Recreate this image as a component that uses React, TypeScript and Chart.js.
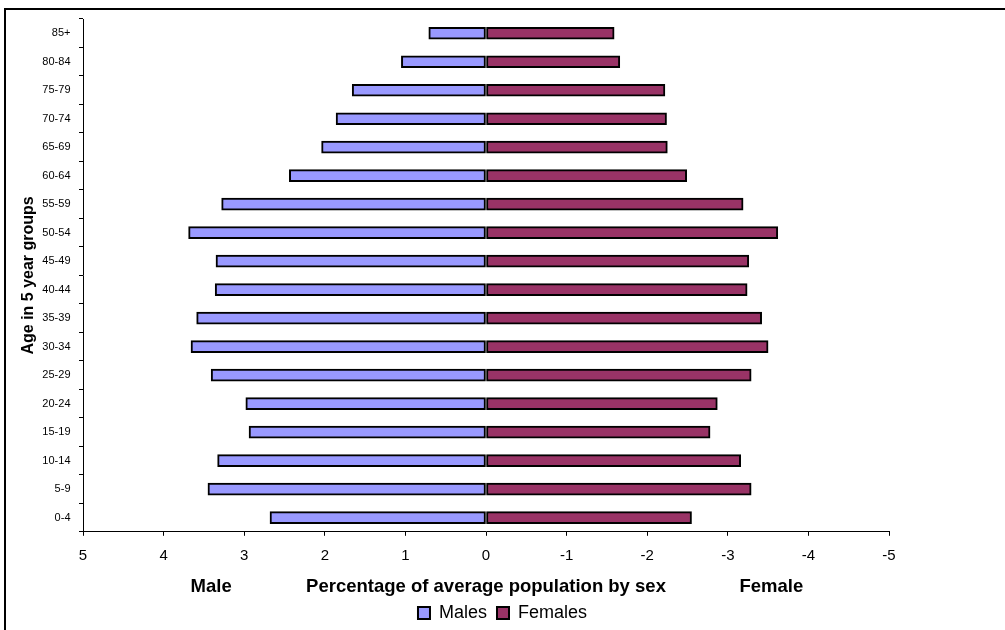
import React, { useEffect, useRef } from "react";
import { Chart, registerables } from "chart.js";

Chart.register(...registerables);

// ---- Data ----
const ageGroups = [
  "0-4", "5-9", "10-14", "15-19", "20-24", "25-29", "30-34", "35-39", "40-44",
  "45-49", "50-54", "55-59", "60-64", "65-69", "70-74", "75-79", "80-84", "85+",
];
const malesPct = [
  2.68, 3.45, 3.33, 2.94, 2.98, 3.41, 3.66, 3.59, 3.36,
  3.35, 3.69, 3.28, 2.44, 2.04, 1.86, 1.66, 1.05, 0.71,
];
// females plotted on the negative side of the axis
const femalesPct = [
  -2.55, -3.29, -3.16, -2.78, -2.87, -3.29, -3.5, -3.42, -3.24,
  -3.26, -3.62, -3.19, -2.49, -2.25, -2.24, -2.22, -1.66, -1.59,
];
const xMin = -5;
const xMax = 5;
const xStep = 1;
const seriesNames = ["Males", "Females"];
const yAxisTitle = "Age in 5 year groups";
const xAxisTitle = "Percentage of average population by sex";
const maleLabel = "Male";
const femaleLabel = "Female";

// ---- Styles ----
const FONT = "'Liberation Sans', Arial, Helvetica, sans-serif";
const TITLE_SIZE = 18.5;
const TITLE_PAD_BOTTOM = -4;

const sideLabels = {
  id: "sideLabels",
  afterDraw(chart: any) {
    const sx = chart.scales.x;
    const ctx = chart.ctx;
    const lh = TITLE_SIZE * 1.2;
    const y = sx.bottom - (lh / 2 + TITLE_PAD_BOTTOM);
    ctx.save();
    ctx.font = `bold ${TITLE_SIZE}px ${FONT}`;
    ctx.fillStyle = "#000";
    ctx.textAlign = "center";
    ctx.textBaseline = "middle";
    ctx.fillText(maleLabel, sx.getPixelForValue(3.41), y);
    ctx.fillText(femaleLabel, sx.getPixelForValue(-3.54), y);
    ctx.restore();
  },
};

export default function App() {
  const ref = useRef<HTMLCanvasElement | null>(null);

  useEffect(() => {
    if (!ref.current) return;
    const chart = new Chart(ref.current, {
      type: "bar",
      data: {
        labels: ageGroups,
        datasets: [
          {
            label: seriesNames[0],
            data: malesPct,
            backgroundColor: "#9999FF",
            borderColor: "#000000",
            borderWidth: 2,
            borderSkipped: false,
            barThickness: 12,
            yAxisID: "y",
          },
          {
            label: seriesNames[1],
            data: femalesPct,
            backgroundColor: "#993366",
            borderColor: "#000000",
            borderWidth: 2,
            borderSkipped: false,
            barThickness: 12,
            yAxisID: "y",
          },
        ],
      },
      options: {
        indexAxis: "y",
        responsive: false,
        animation: false,
        devicePixelRatio: 1,
        layout: { padding: { top: 19, right: 0, left: 0, bottom: 0 } },
        plugins: {
          tooltip: { enabled: false },
          legend: {
            position: "bottom",
            labels: {
              boxWidth: 12,
              boxHeight: 12,
              padding: 10,
              color: "#000",
              font: { family: FONT, size: 18 },
            },
          },
        },
        scales: {
          x: {
            type: "linear",
            reverse: true,
            stacked: true,
            min: xMin,
            max: xMax,
            ticks: {
              stepSize: xStep,
              color: "#000",
              padding: 11,
              font: { family: FONT, size: 15 },
            },
            grid: {
              display: true,
              drawOnChartArea: false,
              drawTicks: true,
              tickLength: 4,
              color: "#000",
            },
            border: { display: true, color: "#000", width: 1 },
            title: {
              display: true,
              text: xAxisTitle,
              color: "#000",
              font: { family: FONT, size: TITLE_SIZE, weight: "bold" },
              padding: { top: 0, bottom: TITLE_PAD_BOTTOM },
            },
          },
          y: {
            type: "category",
            reverse: true,
            stacked: true,
            ticks: {
              color: "#000",
              padding: 8.5,
              font: { family: FONT, size: 11 },
            },
            grid: {
              display: true,
              drawOnChartArea: false,
              drawTicks: true,
              tickLength: 4,
              color: "#000",
            },
            border: { display: true, color: "#000", width: 1 },
            title: {
              display: true,
              text: yAxisTitle,
              color: "#000",
              font: { family: FONT, size: 16, weight: "bold" },
              padding: { top: 18.8, bottom: 0 },
            },
            afterFit(scale: any) {
              scale.width = 83;
            },
          },
          // empty right-hand spacer so the legend can centre on the full width
          yRight: {
            type: "category",
            position: "right",
            display: true,
            ticks: { display: false },
            grid: { display: false },
            border: { display: false },
            afterFit(scale: any) {
              scale.width = 116;
            },
          },
        },
      },
      plugins: [sideLabels],
    } as any);
    return () => chart.destroy();
  }, []);

  return (
    <div
      style={{
        position: "fixed",
        left: 0,
        top: 0,
        width: 1005,
        height: 630,
        overflow: "hidden",
        background: "#fff",
      }}
    >
      <div
        style={{
          position: "absolute",
          left: 4,
          top: 8,
          width: 1100,
          height: 700,
          borderLeft: "2px solid #000",
          borderTop: "2px solid #000",
        }}
      />
      <canvas
        ref={ref}
        width={1005}
        height={632}
        style={{ position: "absolute", left: 0, top: 0, width: 1005, height: 632 }}
      />
    </div>
  );
}
